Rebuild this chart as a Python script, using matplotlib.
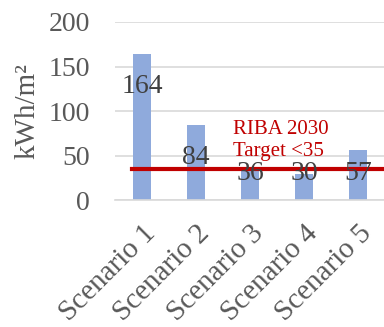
import numpy as np
import matplotlib.pyplot as plt

plt.rcParams['font.family'] = ['Liberation Serif', 'DejaVu Serif']

scenarios = ['Scenario 1', 'Scenario 2', 'Scenario 3', 'Scenario 4', 'Scenario 5']
energy = [164, 84, 36, 30, 57]
target = 35

fig = plt.figure(figsize=(3.84, 3.27), dpi=100)
ax = fig.add_axes([0.2995, 0.387, 0.703, 0.546])

x = np.arange(len(scenarios))
ax.bar(x, energy, width=0.32, color='#8FAADC', zorder=2)

# data labels sit inside the bar top, but not lower than ~30
for xi, v in zip(x, energy):
    ax.text(xi, max(v - 36, 30), str(v), ha='center', va='center',
            fontsize=20, color='#404040', zorder=4)

ax.plot([-0.19, 4.6], [target, target], color='#C00000', lw=3, zorder=3,
        clip_on=False)
ax.text(1.69, 44, 'RIBA 2030\nTarget <35', color='#C00000', fontsize=15,
        ha='left', va='bottom', linespacing=1.25, zorder=5)

ax.set_xlim(-0.5, 4.5)
ax.set_ylim(0, 200)
ax.set_yticks([0, 50, 100, 150, 200])
ax.yaxis.grid(True, color='#D9D9D9', lw=1.2, zorder=0)
ax.set_axisbelow(True)
for s in ['top', 'right', 'left']:
    ax.spines[s].set_visible(False)
ax.spines['bottom'].set_color('#D9D9D9')
ax.spines['bottom'].set_linewidth(1.2)
ax.tick_params(axis='both', length=0, colors='#595959', labelsize=20)
ax.tick_params(axis='y', pad=18)
ax.set_xticks(x)
ax.set_xticklabels(scenarios, rotation=45, ha='right', rotation_mode='anchor',
                   fontsize=21)
ax.tick_params(axis='x', pad=14)
ax.set_ylabel('kWh/m²', fontsize=21, color='#595959', labelpad=6)

fig.savefig('out.png', dpi=100)
